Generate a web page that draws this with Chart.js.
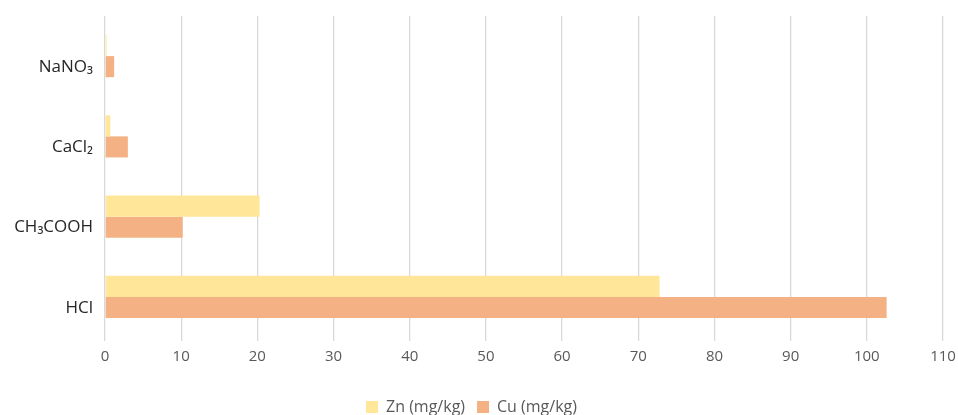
<!DOCTYPE html>
<html>
<head>
<meta charset="utf-8">
<script src="https://cdn.jsdelivr.net/npm/chart.js@4/dist/chart.umd.min.js"></script>
<style>
  html, body { margin: 0; padding: 0; background: #fff; }
  #wrap { width: 958px; height: 415px; position: relative; }
</style>
</head>
<body>
<div id="wrap"><canvas id="chart"></canvas></div>
<script>
"use strict";

const categories = ["NaNO\u2083", "CaCl\u2082", "CH\u2083COOH", "HCl"];
const znValues = [0.2, 0.7, 20.3, 72.8];
const cuValues = [1.2, 3.0, 10.2, 102.6];
const seriesNames = ["Zn (mg/kg)", "Cu (mg/kg)"];
const xTicks = [0, 10, 20, 30, 40, 50, 60, 70, 80, 90, 100, 110];

const ctx = document.getElementById("chart").getContext("2d");

new Chart(ctx, {
  type: "bar",
  data: {
    labels: categories,
    datasets: [
      {
        label: seriesNames[0],
        data: znValues,
        backgroundColor: "#FFE699",
        barPercentage: 1,
        categoryPercentage: 0.525,
      },
      {
        label: seriesNames[1],
        data: cuValues,
        backgroundColor: "#F4B183",
        barPercentage: 1,
        categoryPercentage: 0.525,
      },
    ],
  },
  options: {
    indexAxis: "y",
    responsive: true,
    maintainAspectRatio: false,
    animation: false,
    layout: { padding: { top: 16, right: 15, left: 0, bottom: -10 } },
    scales: {
      x: {
        min: 0,
        max: 110,
        afterBuildTicks: (axis) => {
          axis.ticks = xTicks.map((v) => ({ value: v }));
        },
        afterFit: (s) => {
          s.paddingRight = 0;
          s.paddingLeft = 0;
          s.height += 14;
        },
        grid: { color: "#d9d9d9", lineWidth: 1.3, tickLength: 4, drawTicks: true },
        border: { display: false },
        ticks: {
          color: "#595959",
          font: { family: "'Open Sans', sans-serif", size: 15 },
          padding: 7,
        },
      },
      y: {
        grid: { display: false },
        border: { display: false },
        afterFit: (s) => { s.width = 105; },
        ticks: {
          color: "#262626",
          font: { family: "'Open Sans', sans-serif", size: 17 },
          padding: 4,
          labelOffset: 11,
        },
      },
    },
    plugins: {
      legend: {
        position: "bottom",
        labels: {
          color: "#595959",
          font: { family: "'Open Sans', sans-serif", size: 16 },
          boxWidth: 12,
          boxHeight: 12,
          padding: 12,
        },
      },
      tooltip: { enabled: false },
    },
  },
});
</script>
</body>
</html>
